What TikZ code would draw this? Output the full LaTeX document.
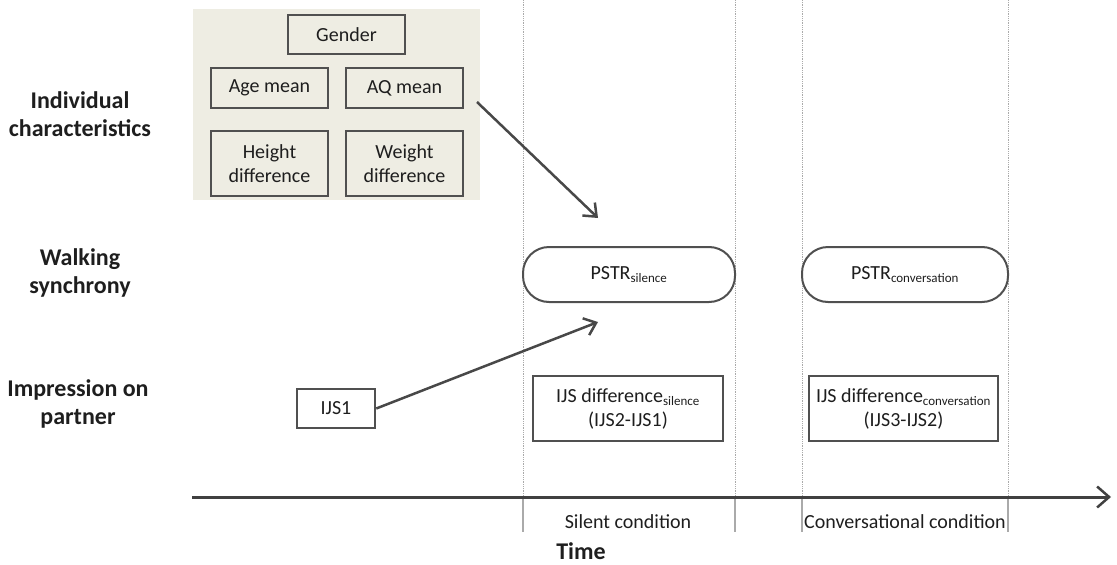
\documentclass[tikz,border=0pt]{standalone}
\usepackage{fontspec}
\setmainfont{Carlito}
\usetikzlibrary{arrows.meta}

\definecolor{boxgray}{RGB}{80,80,80}
\definecolor{panel}{RGB}{238,237,227}
\definecolor{guide}{RGB}{170,170,170}
\definecolor{ink}{RGB}{30,30,30}

\newcommand{\sublabel}[1]{\textsubscript{\fontsize{13}{13}\selectfont #1}}

\begin{document}
\begin{tikzpicture}[
        x=1pt, y=-1pt,
        every node/.style={font=\fontsize{20}{24}\selectfont, text=ink},
        varbox/.style={draw=boxgray, line width=2.5pt, align=center, inner sep=0pt},
        pill/.style={draw=boxgray, line width=2pt, rounded corners=26pt, inner sep=0pt,
            minimum width=212pt, minimum height=55pt},
        rowlabel/.style={font=\fontsize{24}{28}\selectfont\bfseries, align=center},
        link/.style={draw=boxgray!90!black, line width=2.5pt,
            -{Straight Barb[length=11pt, width=18pt, line width=2.5pt]}},
        ]
            \useasboundingbox (0,0) rectangle (1117,565);

            % individual characteristics
            \node[fill=panel, minimum width=287pt, minimum height=191pt, inner sep=0pt] (PANEL) at (336.5,104.5) {};
            \node[varbox, minimum width=117pt, minimum height=39pt] (GENDER) at (346.5,34.5) {Gender};
            \node[varbox, minimum width=117pt, minimum height=40pt] (AGE) at (269.5,88) {Age mean};
            \node[varbox, minimum width=117pt, minimum height=40pt] (AQ) at (404.5,88) {AQ mean};
            \node[varbox, minimum width=117pt, minimum height=65pt] (HEIGHT) at (269.5,163.5) {Height\\difference};
            \node[varbox, minimum width=117pt, minimum height=65pt] (WEIGHT) at (404.5,163.5) {Weight\\difference};

            % row labels
            \node[rowlabel] (INDIV) at (80,114) {Individual\\characteristics};
            \node[rowlabel] (WALK) at (80,273) {Walking\\synchrony};
            \node[rowlabel] (IMPR) at (78,404) {Impression on\\partner};

            % condition guides
            \foreach \gx in {523,735,802,1008} {
                \draw[guide, densely dotted, line width=0.8pt] (\gx,0) -- (\gx,497);
                \draw[guide, line width=2.5pt] (\gx,497) -- (\gx,532);
            }

            % walking synchrony
            \node[pill, fill=white] (PSTRS) at (629,274.5) {PSTR\sublabel{silence}};
            \node[pill, fill=white, minimum width=206pt] (PSTRC) at (905,274.5) {PSTR\sublabel{conversation}};

            % impression on partner
            \node[varbox, minimum width=78pt, minimum height=39pt] (IJS) at (336,408.5) {IJS1};
            \node[varbox, minimum width=190pt, minimum height=65pt] (DIFFS) at (628,408.5) {IJS difference\sublabel{silence}\\(IJS2-IJS1)};
            \node[varbox, minimum width=189pt, minimum height=65pt] (DIFFC) at (903.5,408.5) {IJS difference\sublabel{conversation}\\(IJS3-IJS2)};

            % time axis
            \coordinate (T0) at (192,497);
            \coordinate (T1) at (1111,497);
            \draw[draw=boxgray!80!black, line width=3pt, -{Straight Barb[length=12pt, width=21pt, line width=2.5pt]}] (T0) -- (T1);
            \node (SILENT) at (628,522) {Silent condition};
            \node (CONV) at (905,522) {Conversational condition};
            \node[font=\fontsize{24}{26}\selectfont\bfseries] (TIME) at (581,551) {Time};

            % effects
            \coordinate (FROMPANEL) at (477,102);
            \coordinate (TOPSTRA) at (598,218);
            \coordinate (TOPSTRB) at (598,322);
            \draw[link] (FROMPANEL) -- (TOPSTRA);
            \draw[link] (IJS.east) -- (TOPSTRB);
\end{tikzpicture}
\end{document}
